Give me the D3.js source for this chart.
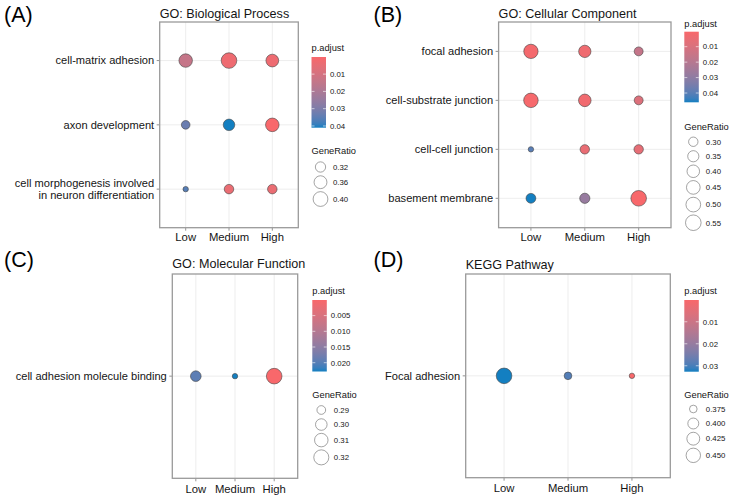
<!DOCTYPE html>
<html><head><meta charset="utf-8">
<script src="https://cdn.jsdelivr.net/npm/d3@7"></script>
<style>body{margin:0;background:#fff} svg{display:block;font-family:"Liberation Sans",Arial,Helvetica,sans-serif}</style>
</head><body><svg id="c" width="734" height="501"></svg>
<script>
// ---------- data ----------
const levels = ["Low", "Medium", "High"];

// (A) GO: Biological Process
const bpTerms = ["cell-matrix adhesion", "axon development", "cell morphogenesis involved\nin neuron differentiation"];
const bpGeneRatio = [[0.372, 0.420, 0.357], [0.303, 0.337, 0.373], [0.290, 0.311, 0.311]];
const bpPadjust = [[0.014, 0.003, 0.003], [0.033, 0.041, 0.0001], [0.036, 0.004, 0.004]];
const bpRatioBreaks = [0.32, 0.36, 0.40];
const bpPadjBreaks = [0.01, 0.02, 0.03, 0.04];

// (B) GO: Cellular Component
const ccTerms = ["focal adhesion", "cell-substrate junction", "cell-cell junction", "basement membrane"];
const ccGeneRatio = [[0.48, 0.39, 0.29], [0.49, 0.40, 0.29], [0.255, 0.30, 0.30], [0.31, 0.32, 0.55]];
const ccPadjust = [[0.0015, 0.003, 0.016], [0.001, 0.0025, 0.009], [0.040, 0.005, 0.006], [0.046, 0.028, 0.0003]];
const ccRatioBreaks = [0.30, 0.35, 0.40, 0.45, 0.50, 0.55];
const ccPadjBreaks = [0.01, 0.02, 0.03, 0.04];

// (C) GO: Molecular Function
const mfTerms = ["cell adhesion molecule binding"];
const mfGeneRatio = [[0.296, 0.286, 0.324]];
const mfPadjust = [[0.0195, 0.0228, 0.00003]];
const mfRatioBreaks = [0.29, 0.30, 0.31, 0.32];
const mfPadjBreaks = [0.005, 0.010, 0.015, 0.020];

// (D) KEGG Pathway
const keggTerms = ["Focal adhesion"];
const keggGeneRatio = [[0.472, 0.375, 0.370]];
const keggPadjust = [[0.0327, 0.029, 0.0001]];
const keggRatioBreaks = [0.375, 0.400, 0.425, 0.450];
const keggPadjBreaks = [0.01, 0.02, 0.03];

const lowColor = "#F8686B", highColor = "#137FC1";
const rMin = 2.7, rMax = 7.8;

// ---------- layout ----------
const panels = [
  {letter: "(A)", title: "GO: Biological Process", terms: bpTerms, ratio: bpGeneRatio, padj: bpPadjust,
   rBreaks: bpRatioBreaks, pBreaks: bpPadjBreaks, rFmt: ".2f", pFmt: ".2f",
   box: [159.7, 22, 298.3, 227.7], letterPos: [4, 22], titleY: 17.5, lx: 311.5, pTitleY: 51,
   bar: [57, 127.7], grTitleY: 153.5, keysTop: 159.75, xLabY: 240.7},
  {letter: "(B)", title: "GO: Cellular Component", terms: ccTerms, ratio: ccGeneRatio, padj: ccPadjust,
   rBreaks: ccRatioBreaks, pBreaks: ccPadjBreaks, rFmt: ".2f", pFmt: ".2f",
   box: [498.6, 22, 671, 227.7], letterPos: [373.5, 22], titleY: 17.5, lx: 684.3, pTitleY: 26.5,
   bar: [31.7, 102.3], grTitleY: 130, keysTop: 134.5, xLabY: 241},
  {letter: "(C)", title: "GO: Molecular Function", terms: mfTerms, ratio: mfGeneRatio, padj: mfPadjust,
   rBreaks: mfRatioBreaks, pBreaks: mfPadjBreaks, rFmt: ".2f", pFmt: ".3f",
   box: [172.3, 274, 297.7, 478.3], letterPos: [4, 267], titleY: 267.5, lx: 312.3, pTitleY: 294,
   bar: [300, 371.5], grTitleY: 398, keysTop: 402.75, xLabY: 492.5},
  {letter: "(D)", title: "KEGG Pathway", terms: keggTerms, ratio: keggGeneRatio, padj: keggPadjust,
   rBreaks: keggRatioBreaks, pBreaks: keggPadjBreaks, rFmt: ".3f", pFmt: ".2f",
   box: [465.7, 274, 670.3, 477.7], letterPos: [373.5, 267], titleY: 268.5, lx: 684.3, pTitleY: 294,
   bar: [300, 371.7], grTitleY: 398, keysTop: 401.75, xLabY: 492}
];

const svg = d3.select("#c");
svg.append("rect").attr("width", 734).attr("height", 501).attr("fill", "#fff");
const defs = svg.append("defs");
const txt = "#151515";

panels.forEach((p, pi) => {
  const g = svg.append("g");
  const [x0, y0, x1, y1] = p.box;
  const x = d3.scalePoint().domain(levels).range([x0, x1]).padding(0.6);
  const y = d3.scalePoint().domain(p.terms).range([y0, y1]).padding(0.6);
  const pts = p.terms.flatMap((t, i) => levels.map((l, j) => ({term: t, level: l, ratio: p.ratio[i][j], padj: p.padj[i][j]})));
  const pExt = d3.extent(pts, d => d.padj);
  const rExt = d3.extent(pts, d => d.ratio);
  const color = d3.scaleLinear().domain(pExt).range([lowColor, highColor]).interpolate(d3.interpolateLab);
  const norm = d3.scaleLinear().domain(rExt).range([0, 1]);
  const area = d3.scaleSqrt().domain([0, 1]).range([rMin, rMax]);
  const size = v => area(norm(v));

  // panel letter + title
  g.append("text").attr("x", p.letterPos[0]).attr("y", p.letterPos[1]).attr("font-size", 21.5).attr("fill", "#000").text(p.letter);
  g.append("text").attr("x", x0).attr("y", p.titleY).attr("font-size", 12.6).attr("fill", txt).text(p.title);

  // grid
  g.selectAll(".gx").data(levels).join("line").attr("x1", d => x(d)).attr("x2", d => x(d)).attr("y1", y0).attr("y2", y1)
    .attr("stroke", "#EBEBEB").attr("stroke-width", 0.9);
  g.selectAll(".gy").data(p.terms).join("line").attr("y1", d => y(d)).attr("y2", d => y(d)).attr("x1", x0).attr("x2", x1)
    .attr("stroke", "#EBEBEB").attr("stroke-width", 0.9);

  // ticks
  g.selectAll(".tx").data(levels).join("line").attr("x1", d => x(d)).attr("x2", d => x(d)).attr("y1", y1).attr("y2", y1 + 3)
    .attr("stroke", "#777").attr("stroke-width", 0.8);
  g.selectAll(".ty").data(p.terms).join("line").attr("y1", d => y(d)).attr("y2", d => y(d)).attr("x1", x0 - 3).attr("x2", x0)
    .attr("stroke", "#777").attr("stroke-width", 0.8);

  // x labels
  g.selectAll(".xl").data(levels).join("text").attr("x", d => x(d)).attr("y", p.xLabY).attr("text-anchor", "middle")
    .attr("font-size", 11.3).attr("fill", txt).text(d => d);
  // y labels
  p.terms.forEach(t => {
    const lines = t.split("\n");
    const lh = 12;
    const tt = g.append("text").attr("text-anchor", "end").attr("font-size", 11.1).attr("fill", txt);
    lines.forEach((ln, k) => {
      tt.append("tspan").attr("x", x0 - 5.5).attr("y", y(t) + 3.9 + (k - (lines.length - 1) / 2) * lh).text(ln);
    });
  });

  // points
  g.selectAll(".pt").data(pts).join("circle").attr("cx", d => x(d.level)).attr("cy", d => y(d.term))
    .attr("r", d => size(d.ratio)).attr("fill", d => color(d.padj)).attr("stroke", "#444").attr("stroke-width", 0.6);

  // border
  g.append("rect").attr("x", x0).attr("y", y0).attr("width", x1 - x0).attr("height", y1 - y0)
    .attr("fill", "none").attr("stroke", "#9a9a9a").attr("stroke-width", 1.3);

  // ---------- legend: p.adjust ----------
  const lx = p.lx;
  g.append("text").attr("x", lx).attr("y", p.pTitleY).attr("font-size", 9.3).attr("fill", txt).text("p.adjust");
  const [by0, by1] = p.bar;
  const bw = 14.5;
  const gid = "grad" + pi;
  const grad = defs.append("linearGradient").attr("id", gid).attr("x1", 0).attr("x2", 0).attr("y1", 0).attr("y2", 1);
  d3.range(0, 1.0001, 0.05).forEach(f => {
    grad.append("stop").attr("offset", f).attr("stop-color", color(pExt[0] + f * (pExt[1] - pExt[0])));
  });
  g.append("rect").attr("x", lx).attr("y", by0).attr("width", bw).attr("height", by1 - by0).attr("fill", `url(#${gid})`);
  const bs = d3.scaleLinear().domain(pExt).range([by0, by1]);
  const pf = d3.format(p.pFmt);
  p.pBreaks.forEach(b => {
    const yy = bs(b);
    g.append("line").attr("x1", lx).attr("x2", lx + 3).attr("y1", yy).attr("y2", yy).attr("stroke", "#fff").attr("stroke-width", 0.6);
    g.append("line").attr("x1", lx + bw - 3).attr("x2", lx + bw).attr("y1", yy).attr("y2", yy).attr("stroke", "#fff").attr("stroke-width", 0.6);
    g.append("text").attr("x", lx + 18.5).attr("y", yy + 2.8).attr("font-size", 7.8).attr("fill", txt).text(pf(b));
  });

  // ---------- legend: GeneRatio ----------
  g.append("text").attr("x", lx).attr("y", p.grTitleY).attr("font-size", 9.3).attr("fill", txt).text("GeneRatio");
  const rf = d3.format(p.rFmt);
  let cum = p.keysTop;
  p.rBreaks.forEach(b => {
    const r = size(b);
    const h = Math.max(14.5, 2 * r + 3);
    const cy = cum + h / 2;
    cum += h;
    g.append("circle").attr("cx", lx + 9).attr("cy", cy).attr("r", r).attr("fill", "none").attr("stroke", "#666").attr("stroke-width", 0.6);
    g.append("text").attr("x", lx + 21.5).attr("y", cy + 2.8).attr("font-size", 7.8).attr("fill", txt).text(rf(b));
  });
});
</script></body></html>
